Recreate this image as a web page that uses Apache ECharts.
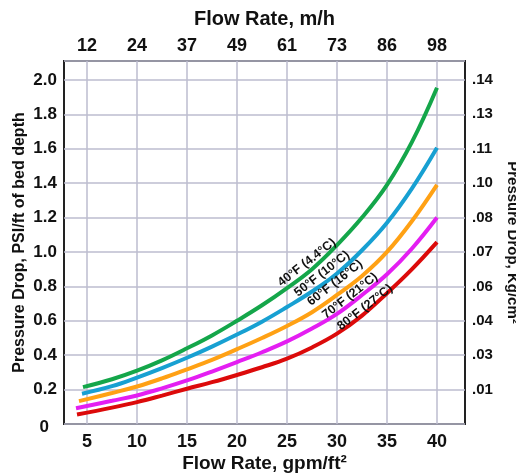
<!DOCTYPE html>
<html>
<head>
<meta charset="utf-8">
<script src="https://cdn.jsdelivr.net/npm/echarts@6/dist/echarts.min.js"></script>
<style>
  html, body { margin: 0; padding: 0; background: #fff; }
  #chart { width: 516px; height: 474px; }
</style>
</head>
<body>
<div id="chart"></div>
<script>
// tick labels
const flowTicks = [5, 10, 15, 20, 25, 30, 35, 40];
const meterTicks = ['12', '24', '37', '49', '61', '73', '86', '98'];
const kgLabels = ['', '.01', '.03', '.04', '.06', '.07', '.08', '.10', '.11', '.13', '.14'];

// curves: flow rate (gpm/ft2) -> pressure drop (PSI/ft)
const curveNames = ['40°F (4.4°C)', '50°F (10°C)', '60°F (16°C)', '70°F (21°C)', '80°F (27°C)'];
const curveColors = ['#14a64a', '#17a0d2', '#ffa114', '#e41ef2', '#dc0a0a'];

const flowSteps = [7.5, 10, 12.5, 15, 17.5, 20, 22.5, 25, 27.5, 30, 32.5, 35, 37.5, 40];
const startFlow = [4.6, 4.5, 4.2, 3.9, 4.0];
const startDrop = [0.214, 0.176, 0.133, 0.092, 0.055];
const drop40 = [0.26, 0.31, 0.37, 0.44, 0.515, 0.60, 0.69, 0.79, 0.90, 1.04, 1.20, 1.39, 1.64, 1.955];
const drop50 = [0.22, 0.27, 0.325, 0.385, 0.45, 0.52, 0.595, 0.68, 0.77, 0.875, 1.01, 1.17, 1.37, 1.606];
const drop60 = [0.18, 0.218, 0.265, 0.318, 0.373, 0.435, 0.50, 0.57, 0.65, 0.75, 0.86, 1.0, 1.18, 1.39];
const drop70 = [0.135, 0.166, 0.207, 0.253, 0.305, 0.36, 0.417, 0.48, 0.555, 0.64, 0.75, 0.87, 1.02, 1.2];
const drop80 = [0.095, 0.127, 0.165, 0.205, 0.243, 0.285, 0.33, 0.38, 0.445, 0.525, 0.63, 0.76, 0.90, 1.057];
const drops = [drop40, drop50, drop60, drop70, drop80];

// curve label: which flow step carries it, and its shift (along text, across text)
const labelFlow = [27.5, 30, 30, 32.5, 32.5];
const labelShift = [[0, -8.4], [-12, -9], [5.8, -10.7], [-10, -6.6], [7.4, -4.6]];

const FONT = '"Liberation Sans", Arial, sans-serif';
const gridLine = { show: true, lineStyle: { color: '#bdbdcf', width: 1.5 } };
const boldText = { fontWeight: 'bold', fontFamily: FONT, color: '#111' };

const chart = echarts.init(document.getElementById('chart'));

const series = drops.map((dy, i) => {
  const data = [[startFlow[i], startDrop[i]]];
  flowSteps.forEach((x, j) => {
    const pt = [x, dy[j]];
    if (x !== labelFlow[i]) { data.push(pt); return; }
    data.push({
      value: pt,
      label: Object.assign({
        show: true,
        formatter: curveNames[i],
        position: 'inside',
        rotate: 38,
        offset: labelShift[i],
        fontSize: 12.5
      }, boldText)
    });
  });
  return {
    name: curveNames[i],
    type: 'line',
    smooth: 0.4,
    symbolSize: 0,
    showSymbol: true,
    lineStyle: { color: curveColors[i], width: 4 },
    itemStyle: { color: curveColors[i] },
    data: data
  };
});

chart.setOption({
  animation: false,
  backgroundColor: '#fff',
  grid: {
    left: 64, right: 51, top: 61, bottom: 50,
    outerBoundsMode: 'none',
    show: true, borderColor: '#222', borderWidth: 2, backgroundColor: 'transparent'
  },
  xAxis: [
    {
      type: 'value', position: 'bottom', min: 2.7, max: 42.8,
      name: 'Flow Rate, gpm/ft²', nameLocation: 'middle', nameGap: 30, nameMoveOverlap: false,
      nameTextStyle: Object.assign({ fontSize: 19 }, boldText),
      axisLine: { show: false },
      axisTick: { show: false, customValues: flowTicks },
      axisLabel: Object.assign({ customValues: flowTicks, margin: 9, fontSize: 18 }, boldText),
      splitLine: gridLine
    },
    {
      type: 'value', position: 'top', min: 2.7, max: 42.8,
      name: 'Flow Rate, m/h', nameLocation: 'middle', nameGap: 32, nameMoveOverlap: false,
      nameTextStyle: Object.assign({ fontSize: 20 }, boldText),
      axisLine: { show: false },
      axisTick: { show: false, customValues: flowTicks },
      axisLabel: Object.assign({
        customValues: flowTicks, margin: 6, fontSize: 18,
        formatter: v => meterTicks[flowTicks.indexOf(v)]
      }, boldText),
      splitLine: { show: false }
    }
  ],
  yAxis: [
    {
      type: 'value', position: 'left', min: 0, max: 2.11, interval: 0.2,
      name: 'Pressure Drop, PSI/ft of bed depth', nameLocation: 'middle', nameGap: 36, nameRotate: 90,
      nameMoveOverlap: false,
      nameTextStyle: Object.assign({ fontSize: 16 }, boldText),
      axisLine: { show: false },
      axisTick: { show: false },
      axisLabel: Object.assign({
        showMaxLabel: false, margin: 7, fontSize: 17,
        formatter: v => v === 0 ? '{z|0}' : v.toFixed(1),
        rich: { z: Object.assign({ fontSize: 17, padding: [6, 8, 0, 0] }, boldText) }
      }, boldText),
      splitLine: gridLine
    },
    {
      type: 'value', position: 'right', min: 0, max: 2.11, interval: 0.2,
      name: 'Pressure Drop, Kg/cm²', nameLocation: 'middle', nameGap: 40, nameRotate: -90,
      nameMoveOverlap: false,
      nameTextStyle: Object.assign({ fontSize: 15 }, boldText),
      axisLine: { show: false },
      axisTick: { show: false },
      axisLabel: Object.assign({
        showMaxLabel: false, margin: 7, fontSize: 15,
        formatter: v => kgLabels[Math.round(v / 0.2)] || ''
      }, boldText),
      splitLine: { show: false }
    }
  ],
  series: series
});
</script>
</body>
</html>
